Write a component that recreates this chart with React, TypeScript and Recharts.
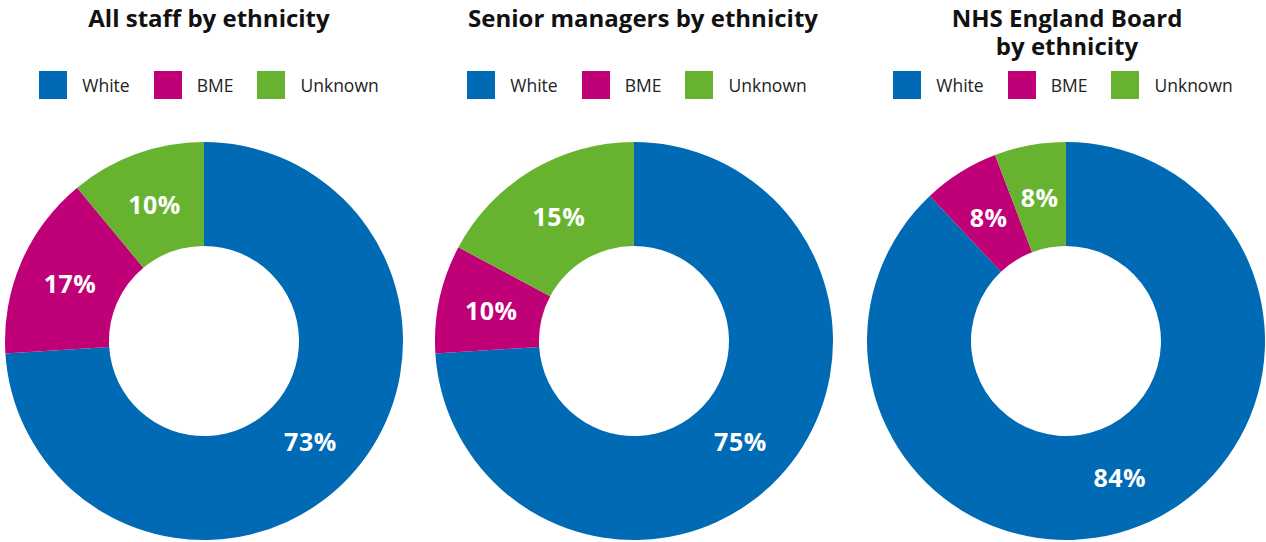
import { PieChart, Pie, Cell } from 'recharts'

const categories = ['White', 'BME', 'Unknown']
const colors = ['#006AB4', '#BF0077', '#67B32F']

// slice sizes as drawn, labels as printed
const allStaffValues = [74, 15, 11]
const allStaffLabels = ['73%', '17%', '10%']
const seniorValues = [74, 8.8, 17.2]
const seniorLabels = ['75%', '10%', '15%']
const boardValues = [88, 6.2, 5.8]
const boardLabels = ['84%', '8%', '8%']

const panels = [
  { title: ['All staff by ethnicity'], values: allStaffValues, labels: allStaffLabels, cx: 204, titleX: 209, legendX: 209 },
  { title: ['Senior managers by ethnicity'], values: seniorValues, labels: seniorLabels, cx: 634, titleX: 643, legendX: 637 },
  { title: ['NHS England Board', 'by ethnicity'], values: boardValues, labels: boardLabels, cx: 1066, titleX: 1067, legendX: 1063 },
]

const RAD = Math.PI / 180

function makeLabel(labels: string[]) {
  return (p: any) => {
    const r = (p.innerRadius + p.outerRadius) / 2 - 1
    const x = p.cx + r * Math.cos(-p.midAngle * RAD)
    const y = p.cy + r * Math.sin(-p.midAngle * RAD)
    return (
      <text
        x={x}
        y={y}
        fill="#fff"
        textAnchor="middle"
        dominantBaseline="central"
        fontSize={25}
        fontWeight={700}
        letterSpacing={0.5}
        fontFamily='"Open Sans", sans-serif'
      >
        {labels[p.index]}
      </text>
    )
  }
}

function LegendRow({ x }: { x: number }) {
  return (
    <div
      style={{
        position: 'absolute',
        left: x - 250,
        width: 500,
        top: 71,
        display: 'flex',
        justifyContent: 'center',
        alignItems: 'center',
        height: 28,
      }}
    >
      {categories.map((c, i) => (
        <div key={c} style={{ display: 'flex', alignItems: 'center', marginRight: i < 2 ? 24 : 0 }}>
          <div style={{ width: 28, height: 28, background: colors[i], marginRight: 15 }} />
          <span style={{ fontSize: 17.5, color: '#222', lineHeight: '28px' }}>{c}</span>
        </div>
      ))}
    </div>
  )
}

export default function App() {
  return (
    <div
      style={{
        position: 'absolute',
        left: 0,
        top: 0,
        width: 1266,
        height: 542,
        overflow: 'hidden',
        background: '#fff',
        fontFamily: '"Open Sans", sans-serif',
      }}
    >
      {panels.map(p => (
        <div key={p.title[0]}>
          <div
            style={{
              position: 'absolute',
              left: p.titleX - 250,
              width: 500,
              top: 4,
              textAlign: 'center',
              fontSize: 24,
              fontWeight: 700,
              lineHeight: '28px',
              color: '#111',
            }}
          >
            {p.title.map(t => (
              <div key={t}>{t}</div>
            ))}
          </div>
          <LegendRow x={p.legendX} />
        </div>
      ))}
      <div style={{ position: 'absolute', left: 0, top: 0 }}>
        <PieChart width={1266} height={542} margin={{ top: 0, right: 0, bottom: 0, left: 0 }}>
          {panels.map(p => (
            <Pie
              key={p.title[0]}
              data={categories.map((c, i) => ({ name: c, value: p.values[i] }))}
              dataKey="value"
              nameKey="name"
              cx={p.cx}
              cy={341}
              innerRadius={95}
              outerRadius={199}
              startAngle={90}
              endAngle={-270}
              stroke="none"
              label={makeLabel(p.labels)}
              labelLine={false}
              isAnimationActive={false}
            >
              {categories.map((c, i) => (
                <Cell key={c} fill={colors[i]} />
              ))}
            </Pie>
          ))}
        </PieChart>
      </div>
    </div>
  )
}
